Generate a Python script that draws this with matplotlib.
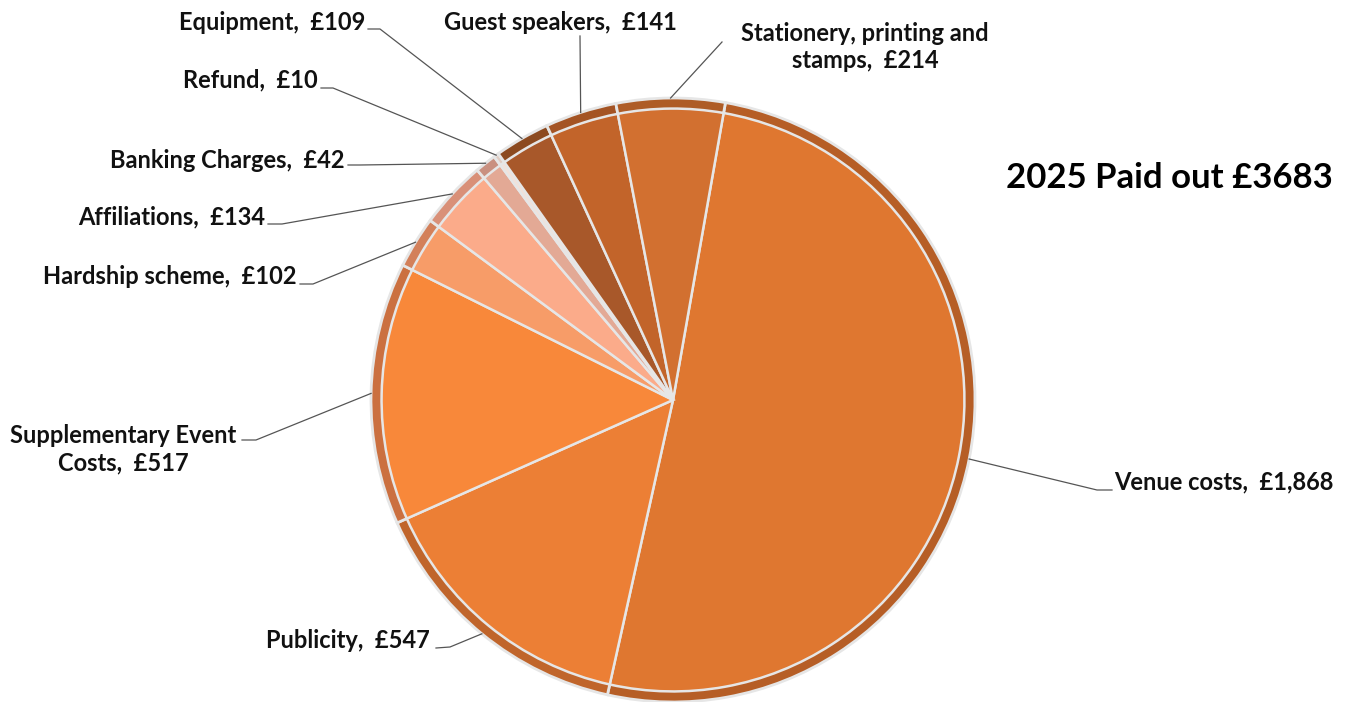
import matplotlib
matplotlib.use("Agg")
import matplotlib.pyplot as plt
import numpy as np

categories = ["Venue costs", "Publicity", "Supplementary Event\nCosts", "Hardship scheme",
              "Affiliations", "Banking Charges", "Refund", "Equipment",
              "Guest speakers", "Stationery, printing and\nstamps"]
values = [1868, 547, 517, 102, 134, 42, 10, 109, 141, 214]
value_labels = ["£1,868", "£547", "£517", "£102", "£134", "£42", "£10", "£109", "£141", "£214"]
title_text = "2025 Paid out £3683"

face_colors = ["#DF7730", "#EC7F35", "#F8883A", "#F79C68", "#FBAB8A", "#E3A995",
               "#F2E2DA", "#A8582A", "#C2642A", "#D27030"]
rim_colors = ["#B65E26", "#C0652B", "#CB7040", "#D3805A", "#D99078", "#C99080",
              "#E0CCC2", "#8C4A20", "#A45424", "#AE5C26"]

W, H, DPI = 1349, 702, 100
CX, CY, R = 673, 400, 302  # pixel centre and radius of the pie

fig = plt.figure(figsize=(W / DPI, H / DPI), dpi=DPI)
ax = fig.add_axes([0, 0, 1, 1])

def px(x, y):
    return ((x - CX) / R, (CY - y) / R)

start = 80
ax.pie(values, colors=rim_colors, startangle=start, counterclock=False, radius=1.0,
       wedgeprops=dict(edgecolor="#E6E6E6", linewidth=2.0))
wedges, _ = ax.pie(values, colors=face_colors, startangle=start, counterclock=False,
                   radius=0.965, wedgeprops=dict(edgecolor="#E6E6E6", linewidth=1.8))

ax.set_xlim(-CX / R, (W - CX) / R)
ax.set_ylim(-(H - CY) / R, CY / R)
ax.set_aspect("auto")
ax.axis("off")

# label placements: (text x, text y in pixels, ha, va)
placements = [
    (1333, 482, "right", "center"),
    (430, 640, "right", "center"),
    (123, 449, "center", "center"),
    (297, 277, "right", "center"),
    (265, 217, "right", "center"),
    (345, 160, "right", "center"),
    (318, 80, "right", "center"),
    (365, 22, "right", "center"),
    (560, 22, "center", "center"),
    (865, 47, "center", "center"),
]
# leader line points (pixel): start near the label, then elbow
leader_pts = [
    [(1112, 490), (1097, 490)],
    [(436, 648), (450, 647)],
    [(242, 440), (256, 440)],
    [(300, 284), (313, 284)],
    [(268, 224), (282, 224)],
    [(348, 165), (360, 165)],
    [(321, 88), (333, 88)],
    [(368, 29), (380, 29)],
    [(580, 36)],
    [(722, 42)],
]

fam = ["Lato", "DejaVu Sans"]
cum = np.cumsum([0] + values)
total = sum(values)
for i, w in enumerate(wedges):
    mid = start - 360 * (cum[i] + values[i] / 2) / total
    ang = np.deg2rad(mid)
    xy = (np.cos(ang) * 1.0, np.sin(ang) * 1.0)
    tx, ty, ha, va = placements[i]
    label = f"{categories[i]},  {value_labels[i]}"
    ax.text(*px(tx, ty), label, ha=ha, va=va, fontsize=17, fontweight="bold",
            family=fam, color="#111111", multialignment="center", linespacing=1.25)
    pts = [px(*p) for p in leader_pts[i]] + [xy]
    ax.plot([p[0] for p in pts], [p[1] for p in pts], color="#555555", lw=0.9)

ax.text(*px(1333, 178), title_text, ha="right", va="center", fontsize=25,
        fontweight="bold", family=fam, color="black")

fig.savefig("out.png", dpi=DPI)
